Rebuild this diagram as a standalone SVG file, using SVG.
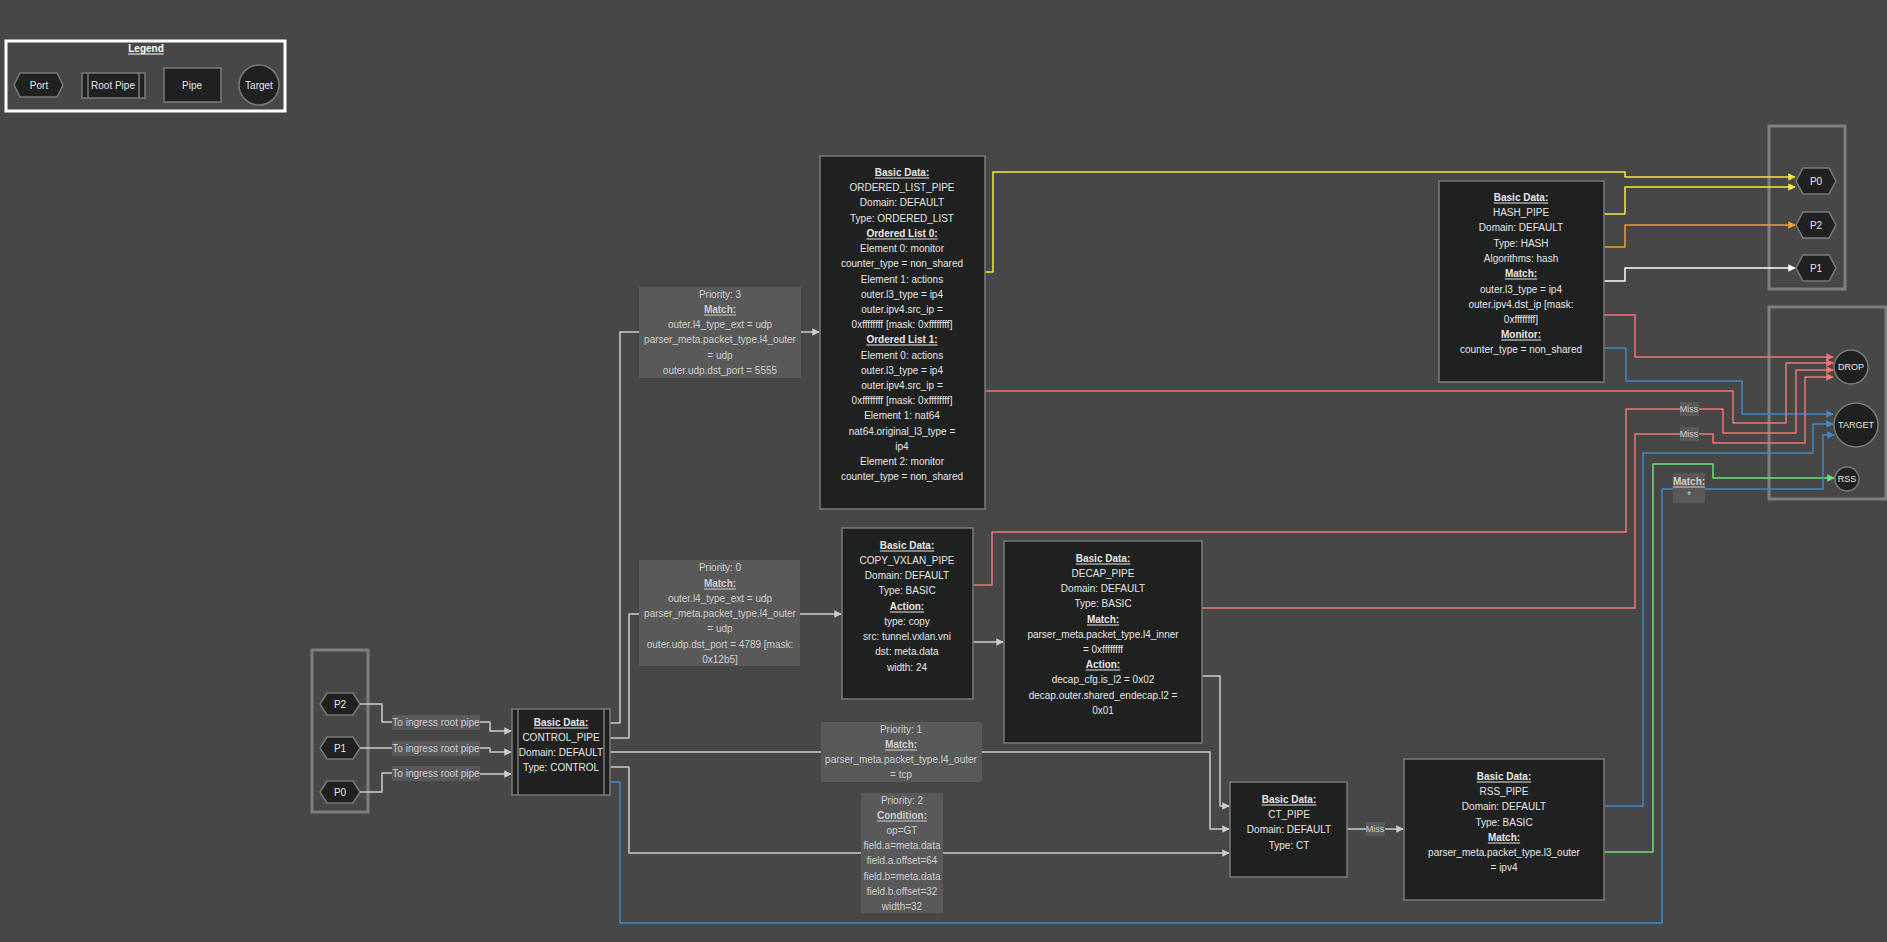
<svg xmlns="http://www.w3.org/2000/svg" width="1887" height="942" viewBox="0 0 1887 942">
<style>
text{font-family:"Liberation Sans",Arial,sans-serif;font-size:10px;fill:#e6e6e6;text-anchor:middle;dominant-baseline:central}
.u{font-weight:bold;text-decoration:underline}
.lt{fill:#cfcfcf}
.sm{font-size:9px}
.node{fill:#1f2020;stroke:#7a7a7a;stroke-width:1.5}
.lbl{fill:#595959}
.grp{fill:none;stroke:#7e7e7e;stroke-width:3}
.e{fill:none;stroke-width:1.5;stroke-linejoin:round}
.g{stroke:#cccccc}.y{stroke:#f2ea3c}.o{stroke:#f0a030}.w{stroke:#ffffff}.r{stroke:#f07575}.b{stroke:#3f88c5}.gr{stroke:#6ee07a}
</style>
<defs>
<marker id="ag" viewBox="0 0 10 10" refX="9" refY="5" markerWidth="5" markerHeight="5" orient="auto"><path d="M0,0L10,5L0,10z" fill="#cccccc"/></marker>
<marker id="ay" viewBox="0 0 10 10" refX="9" refY="5" markerWidth="5" markerHeight="5" orient="auto"><path d="M0,0L10,5L0,10z" fill="#f2ea3c"/></marker>
<marker id="ao" viewBox="0 0 10 10" refX="9" refY="5" markerWidth="5" markerHeight="5" orient="auto"><path d="M0,0L10,5L0,10z" fill="#f0a030"/></marker>
<marker id="aw" viewBox="0 0 10 10" refX="9" refY="5" markerWidth="5" markerHeight="5" orient="auto"><path d="M0,0L10,5L0,10z" fill="#ffffff"/></marker>
<marker id="ar" viewBox="0 0 10 10" refX="9" refY="5" markerWidth="5" markerHeight="5" orient="auto"><path d="M0,0L10,5L0,10z" fill="#f07575"/></marker>
<marker id="ab" viewBox="0 0 10 10" refX="9" refY="5" markerWidth="5" markerHeight="5" orient="auto"><path d="M0,0L10,5L0,10z" fill="#3f88c5"/></marker>
<marker id="agr" viewBox="0 0 10 10" refX="9" refY="5" markerWidth="5" markerHeight="5" orient="auto"><path d="M0,0L10,5L0,10z" fill="#6ee07a"/></marker>
</defs>
<rect width="1887" height="942" fill="#474747"/>

<g id="legend">
<rect x="6" y="41" width="279" height="70" fill="none" stroke="#ffffff" stroke-width="3"/>
<text x="146" y="48" class="u" style="fill:#fff">Legend</text>
<polygon points="14,85 20,73 57,73 63,85 57,97 20,97" class="node"/>
<text x="39" y="85">Port</text>
<rect x="82" y="73" width="63" height="25" class="node"/>
<line x1="88" y1="73" x2="88" y2="98" stroke="#7a7a7a" stroke-width="1.5"/>
<line x1="139" y1="73" x2="139" y2="98" stroke="#7a7a7a" stroke-width="1.5"/>
<text x="113" y="85">Root Pipe</text>
<rect x="164" y="68" width="57" height="34" class="node"/>
<text x="192" y="85">Pipe</text>
<circle cx="259" cy="85" r="20" class="node"/>
<text x="259" y="85">Target</text>
</g>

<g id="ingress-ports">
<rect x="312" y="650" width="56" height="162" class="grp"/>
<g id="port-p2"><polygon points="320,704 327,693 353,693 360,704 353,715 327,715" class="node"/><text x="340" y="704">P2</text></g>
<g id="port-p1"><polygon points="320,748 327,737 353,737 360,748 353,759 327,759" class="node"/><text x="340" y="748">P1</text></g>
<g id="port-p0"><polygon points="320,792 327,781 353,781 360,792 353,803 327,803" class="node"/><text x="340" y="792">P0</text></g>
</g>

<g id="egress-ports">
<rect x="1769" y="126" width="76" height="163" class="grp"/>
<g id="out-p0"><polygon points="1796,181 1803,168 1829,168 1836,181 1829,194 1803,194" class="node"/><text x="1816" y="181">P0</text></g>
<g id="out-p2"><polygon points="1796,225 1803,212 1829,212 1836,225 1829,238 1803,238" class="node"/><text x="1816" y="225">P2</text></g>
<g id="out-p1"><polygon points="1796,268 1803,255 1829,255 1836,268 1829,281 1803,281" class="node"/><text x="1816" y="268">P1</text></g>
</g>

<g id="targets">
<rect x="1769" y="307" width="117" height="192" class="grp"/>
<g id="drop"><circle cx="1851" cy="367" r="17" class="node"/><text x="1851" y="367" class="sm">DROP</text></g>
<g id="target"><circle cx="1856" cy="425" r="22" class="node"/><text x="1856" y="425" class="sm">TARGET</text></g>
<g id="rss"><circle cx="1847" cy="479" r="12" class="node"/><text x="1847" y="479" class="sm">RSS</text></g>
</g>

<g id="connectors">
<path class="e g" d="M360,704H382V722H392" />
<path class="e g" d="M480,722H490V731H511" marker-end="url(#ag)"/>
<path class="e g" d="M360,748H392"/>
<path class="e g" d="M480,748H490V752H511" marker-end="url(#ag)"/>
<path class="e g" d="M360,792H382V773H392"/>
<path class="e g" d="M480,774H511" marker-end="url(#ag)"/>
<path class="e g" d="M610,723H620V332H639"/>
<path class="e g" d="M801,332H819" marker-end="url(#ag)"/>
<path class="e g" d="M610,738H629V614H639"/>
<path class="e g" d="M800,614H841" marker-end="url(#ag)"/>
<path class="e g" d="M610,752H821"/>
<path class="e g" d="M982,752H1210V829H1229" marker-end="url(#ag)"/>
<path class="e g" d="M610,767H629V853H861"/>
<path class="e g" d="M943,853H1229" marker-end="url(#ag)"/>
<path class="e g" d="M973,642H1003" marker-end="url(#ag)"/>
<path class="e g" d="M1202,676H1220V806H1229" marker-end="url(#ag)"/>
<path class="e g" d="M1347,829H1366"/>
<path class="e g" d="M1385,829H1403" marker-end="url(#ag)"/>
<path class="e y" d="M985,272H993V172H1625V177H1795" marker-end="url(#ay)"/>
<path class="e y" d="M1604,214H1625V187H1795" marker-end="url(#ay)"/>
<path class="e o" d="M1604,247H1625V225H1795" marker-end="url(#ao)"/>
<path class="e w" d="M1604,281H1625V268H1795" marker-end="url(#aw)"/>
<path class="e r" d="M1604,315H1635V357H1833" marker-end="url(#ar)"/>
<path class="e b" d="M1604,348H1626V381H1742V414H1833" marker-end="url(#ab)"/>
<path class="e r" d="M985,391H1733V423H1786V363H1833" marker-end="url(#ar)"/>
<path class="e r" d="M973,585H992V532H1626V409H1680"/>
<path class="e r" d="M1698,409H1723V433H1796V370H1833" marker-end="url(#ar)"/>
<path class="e r" d="M1202,608H1635V434H1680"/>
<path class="e r" d="M1698,434H1713V443H1805V377H1833" marker-end="url(#ar)"/>
<path class="e b" d="M1604,806H1643V453H1813V424H1833" marker-end="url(#ab)"/>
<path class="e gr" d="M1604,852H1653V464H1713V478H1834" marker-end="url(#agr)"/>
<path class="e b" d="M610,782H620V923H1662V489H1673"/>
<path class="e b" d="M1705,489H1823V435H1834" marker-end="url(#ab)"/>
</g>

<g id="edge-labels">
<g><rect x="392" y="715" width="88" height="15" class="lbl"/><text x="436" y="722" class="lt">To ingress root pipe</text></g>
<g><rect x="392" y="741" width="88" height="15" class="lbl"/><text x="436" y="748" class="lt">To ingress root pipe</text></g>
<g><rect x="392" y="766" width="88" height="15" class="lbl"/><text x="436" y="773" class="lt">To ingress root pipe</text></g>
<g><rect x="639" y="287" width="162" height="91" class="lbl"/>
<text x="720" y="294" class="lt">Priority: 3</text><text x="720" y="309" class="lt u">Match:</text><text x="720" y="324" class="lt">outer.l4_type_ext = udp</text><text x="720" y="339" class="lt">parser_meta.packet_type.l4_outer</text><text x="720" y="355" class="lt">= udp</text><text x="720" y="370" class="lt">outer.udp.dst_port = 5555</text></g>
<g><rect x="639" y="560" width="161" height="106" class="lbl"/>
<text x="720" y="567" class="lt">Priority: 0</text><text x="720" y="583" class="lt u">Match:</text><text x="720" y="598" class="lt">outer.l4_type_ext = udp</text><text x="720" y="613" class="lt">parser_meta.packet_type.l4_outer</text><text x="720" y="628" class="lt">= udp</text><text x="720" y="644" class="lt">outer.udp.dst_port = 4789 [mask:</text><text x="720" y="659" class="lt">0x12b5]</text></g>
<g><rect x="821" y="722" width="161" height="60" class="lbl"/>
<text x="901" y="729" class="lt">Priority: 1</text><text x="901" y="744" class="lt u">Match:</text><text x="901" y="759" class="lt">parser_meta.packet_type.l4_outer</text><text x="901" y="774" class="lt">= tcp</text></g>
<g><rect x="861" y="793" width="82" height="120" class="lbl"/>
<text x="902" y="800" class="lt">Priority: 2</text><text x="902" y="815" class="lt u">Condition:</text><text x="902" y="830" class="lt">op=GT</text><text x="902" y="845" class="lt">field.a=meta.data</text><text x="902" y="860" class="lt">field.a.offset=64</text><text x="902" y="876" class="lt">field.b=meta.data</text><text x="902" y="891" class="lt">field.b.offset=32</text><text x="902" y="906" class="lt">width=32</text></g>
<g><rect x="1366" y="822" width="19" height="14" class="lbl"/><text x="1375" y="829" class="lt sm">Miss</text></g>
<g><rect x="1680" y="402" width="19" height="14" class="lbl"/><text x="1689" y="409" class="lt sm">Miss</text></g>
<g><rect x="1680" y="427" width="19" height="14" class="lbl"/><text x="1689" y="434" class="lt sm">Miss</text></g>
<g><rect x="1673" y="473" width="32" height="30" class="lbl"/><text x="1689" y="481" class="lt u">Match:</text><text x="1689" y="495" class="lt">*</text></g>
</g>

<g id="control-pipe">
<rect x="512" y="709" width="98" height="86" class="node"/>
<line x1="518" y1="709" x2="518" y2="795" stroke="#7a7a7a" stroke-width="1.5"/>
<line x1="604" y1="709" x2="604" y2="795" stroke="#7a7a7a" stroke-width="1.5"/>
<text x="561" y="722" class="u">Basic Data:</text><text x="561" y="737">CONTROL_PIPE</text><text x="561" y="752">Domain: DEFAULT</text><text x="561" y="767">Type: CONTROL</text>
</g>

<g id="ordered-list-pipe">
<rect x="820" y="156" width="165" height="353" class="node"/>
<text x="902" y="172" class="u">Basic Data:</text><text x="902" y="187">ORDERED_LIST_PIPE</text><text x="902" y="202">Domain: DEFAULT</text><text x="902" y="218">Type: ORDERED_LIST</text><text x="902" y="233" class="u">Ordered List 0:</text><text x="902" y="248">Element 0: monitor</text><text x="902" y="263">counter_type = non_shared</text><text x="902" y="279">Element 1: actions</text><text x="902" y="294">outer.l3_type = ip4</text><text x="902" y="309">outer.ipv4.src_ip =</text><text x="902" y="324">0xffffffff [mask: 0xffffffff]</text><text x="902" y="339" class="u">Ordered List 1:</text><text x="902" y="355">Element 0: actions</text><text x="902" y="370">outer.l3_type = ip4</text><text x="902" y="385">outer.ipv4.src_ip =</text><text x="902" y="400">0xffffffff [mask: 0xffffffff]</text><text x="902" y="415">Element 1: nat64</text><text x="902" y="431">nat64.original_l3_type =</text><text x="902" y="446">ip4</text><text x="902" y="461">Element 2: monitor</text><text x="902" y="476">counter_type = non_shared</text>
</g>

<g id="hash-pipe">
<rect x="1439" y="181" width="165" height="201" class="node"/>
<text x="1521" y="197" class="u">Basic Data:</text><text x="1521" y="212">HASH_PIPE</text><text x="1521" y="227">Domain: DEFAULT</text><text x="1521" y="243">Type: HASH</text><text x="1521" y="258">Algorithms: hash</text><text x="1521" y="273" class="u">Match:</text><text x="1521" y="289">outer.l3_type = ip4</text><text x="1521" y="304">outer.ipv4.dst_ip [mask:</text><text x="1521" y="319">0xffffffff]</text><text x="1521" y="334" class="u">Monitor:</text><text x="1521" y="349">counter_type = non_shared</text>
</g>

<g id="copy-vxlan-pipe">
<rect x="842" y="528" width="131" height="171" class="node"/>
<text x="907" y="545" class="u">Basic Data:</text><text x="907" y="560">COPY_VXLAN_PIPE</text><text x="907" y="575">Domain: DEFAULT</text><text x="907" y="590">Type: BASIC</text><text x="907" y="606" class="u">Action:</text><text x="907" y="621">type: copy</text><text x="907" y="636">src: tunnel.vxlan.vni</text><text x="907" y="651">dst: meta.data</text><text x="907" y="667">width: 24</text>
</g>

<g id="decap-pipe">
<rect x="1004" y="541" width="198" height="202" class="node"/>
<text x="1103" y="558" class="u">Basic Data:</text><text x="1103" y="573">DECAP_PIPE</text><text x="1103" y="588">Domain: DEFAULT</text><text x="1103" y="603">Type: BASIC</text><text x="1103" y="619" class="u">Match:</text><text x="1103" y="634">parser_meta.packet_type.l4_inner</text><text x="1103" y="649">= 0xffffffff</text><text x="1103" y="664" class="u">Action:</text><text x="1103" y="679">decap_cfg.is_l2 = 0x02</text><text x="1103" y="695">decap.outer.shared_endecap.l2 =</text><text x="1103" y="710">0x01</text>
</g>

<g id="ct-pipe">
<rect x="1230" y="782" width="117" height="95" class="node"/>
<text x="1289" y="799" class="u">Basic Data:</text><text x="1289" y="814">CT_PIPE</text><text x="1289" y="829">Domain: DEFAULT</text><text x="1289" y="845">Type: CT</text>
</g>

<g id="rss-pipe">
<rect x="1404" y="759" width="200" height="141" class="node"/>
<text x="1504" y="776" class="u">Basic Data:</text><text x="1504" y="791">RSS_PIPE</text><text x="1504" y="806">Domain: DEFAULT</text><text x="1504" y="822">Type: BASIC</text><text x="1504" y="837" class="u">Match:</text><text x="1504" y="852">parser_meta.packet_type.l3_outer</text><text x="1504" y="867">= ipv4</text>
</g>
</svg>
